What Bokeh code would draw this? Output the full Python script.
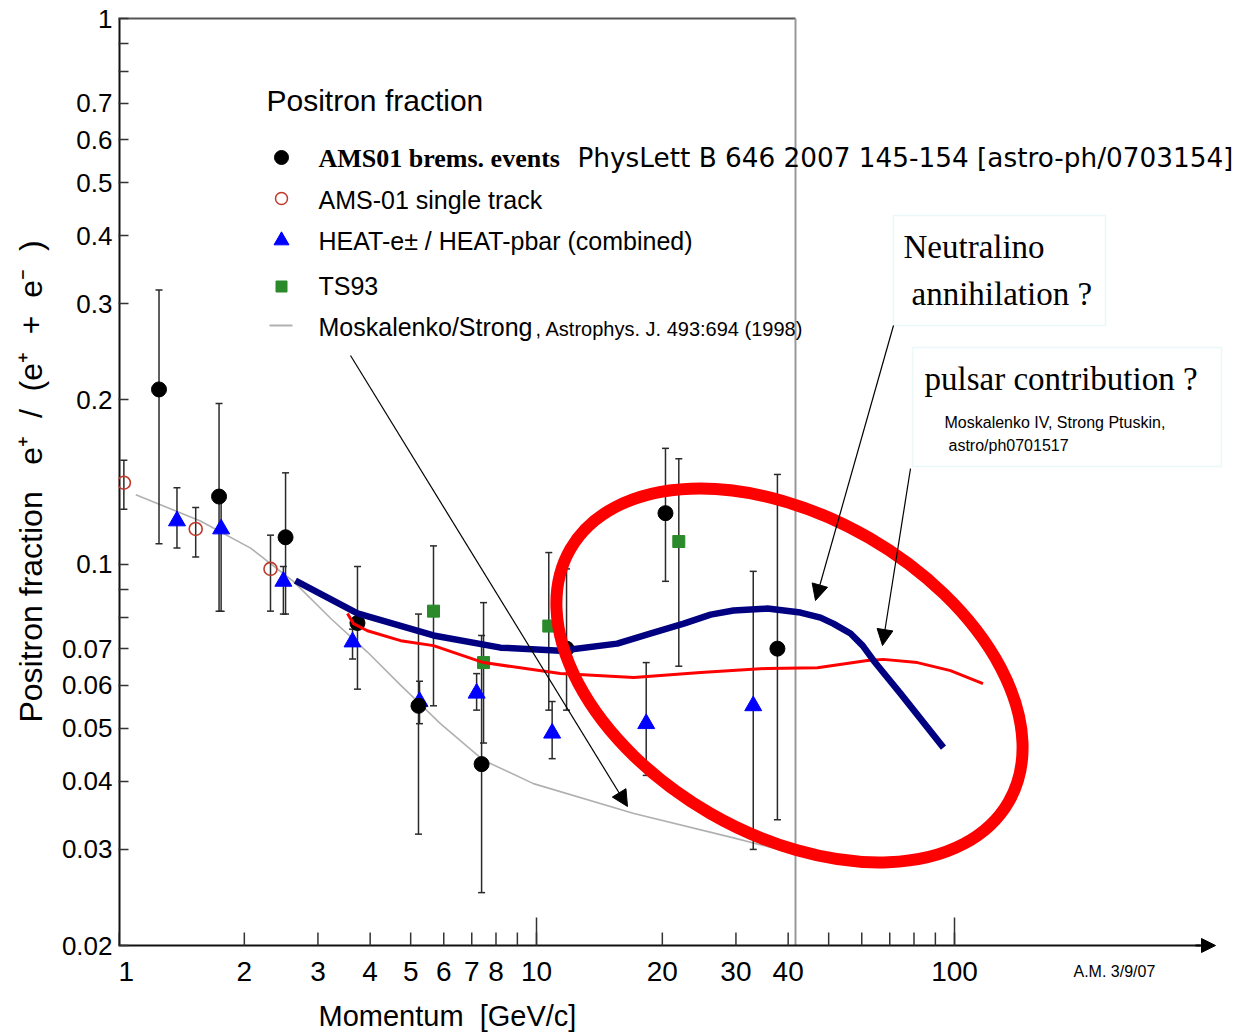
from math import log10
from bokeh.plotting import figure
from bokeh.models import FixedTicker, Label, Arrow, NormalHead, BoxAnnotation
from bokeh.core.properties import value
from bokeh.embed import file_html
from bokeh.resources import INLINE

# ---------------- data ----------------
# AMS01 bremsstrahlung events
ams_brems_x = [1.25, 1.74, 2.51, 3.73, 5.22, 7.39, 11.8, 20.35, 37.7]
ams_brems_y = [0.209, 0.133, 0.112, 0.078, 0.055, 0.043, 0.070, 0.124, 0.070]
ams_brems_hi = [0.318, 0.197, 0.147, 0.099, 0.081, 0.074, 0.098, 0.163, 0.146]
ams_brems_lo = [0.109, 0.082, 0.081, 0.059, 0.032, 0.025, 0.054, 0.093, 0.034]

# AMS-01 single track
ams_track_x = [1.03, 1.53, 2.31]
ams_track_y = [0.141, 0.116, 0.098]
ams_track_hi = [0.155, 0.127, 0.113]
ams_track_lo = [0.126, 0.103, 0.082]

# HEAT combined
heat_x = [1.38, 1.76, 2.48, 3.63, 5.25, 7.19, 10.9, 18.3, 33.0]
heat_y = [0.120, 0.116, 0.093, 0.072, 0.056, 0.058, 0.049, 0.051, 0.055]
heat_hi = [0.138, 0.134, 0.099, 0.076, 0.061, 0.063, 0.056, 0.066, 0.097]
heat_lo = [0.107, 0.082, 0.081, 0.067, 0.051, 0.054, 0.044, 0.041, 0.030]

# TS93
ts93_x = [5.67, 7.47, 10.7, 21.9]
ts93_y = [0.082, 0.066, 0.077, 0.110]
ts93_hi = [0.108, 0.085, 0.105, 0.156]
ts93_lo = [0.055, 0.047, 0.054, 0.065]

# Moskalenko/Strong secondary prediction
moskalenko_x = [1.10, 1.57, 2.07, 2.62, 3.22, 3.94, 4.73, 5.89, 7.47, 9.83, 17.1, 29.6, 41.2]
moskalenko_y = [0.134, 0.120, 0.107, 0.093, 0.0795, 0.069, 0.060, 0.051, 0.0437, 0.0396, 0.0349, 0.0315, 0.0295]

# Neutralino annihilation curve (navy)
neutralino_x = [2.65, 3.73, 5.67, 8.20, 11.4, 15.6, 18.7, 22.5, 26.1, 29.6, 35.7, 42.8, 47.8,
                51.3, 56.4, 60.3, 64.0, 74.3, 94.1]
neutralino_y = [0.0933, 0.0812, 0.0740, 0.0703, 0.0694, 0.0715, 0.0746, 0.0778, 0.0808, 0.0822,
                0.0829, 0.0815, 0.0798, 0.0778, 0.0746, 0.0709, 0.0666, 0.0579, 0.0461]

# Pulsar contribution curve (red)
pulsar_x = [3.53, 3.65, 3.94, 4.73, 5.67, 7.47, 11.4, 17.1, 24.7, 35.7, 47.0, 61.9, 67.6, 81.5, 97.8, 117.0]
pulsar_y = [0.0812, 0.0778, 0.0755, 0.0724, 0.0709, 0.0660, 0.0630, 0.0620, 0.0633, 0.0644, 0.0646,
            0.0666, 0.0669, 0.0660, 0.0638, 0.0604]

x_ticks = [1, 2, 3, 4, 5, 6, 7, 8, 9, 10, 20, 30, 40, 50, 60, 70, 80, 90, 100]
x_label_ticks = [2, 3, 4, 5, 6, 7, 8, 10, 20, 30, 40, 100]
x_label_texts = ["2", "3", "4", "5", "6", "7", "8", "10", "20", "30", "40", "100"]
x_first_label = "1"
x_long_ticks = [10, 100]
y_ticks = [0.02, 0.03, 0.04, 0.05, 0.06, 0.07, 0.08, 0.09, 0.1,
           0.2, 0.3, 0.4, 0.5, 0.6, 0.7, 0.8, 0.9, 1.0]
y_tick_labels = ["0.02", "0.03", "0.04", "0.05", "0.06", "0.07", "", "", "0.1",
                 "0.2", "0.3", "0.4", "0.5", "0.6", "0.7", "", "", "1"]

# ---------------- layout ----------------
W, H = 1234, 1034
FL, FR, FT, FB = 118, 1234, 8, 1034       # plot frame
AXL, AXT, AXB = 118, 18, 945               # pixel column of x = 1, rows of y = 1 and y = 0.02
X0, YA, Y1 = 1.0, 0.02, 1.0
DECADE_X = 418.0
DECADE_Y = (AXB - AXT) / (log10(Y1) - log10(YA))


def px_x(px):
    return 10 ** (log10(X0) + (px - AXL) / DECADE_X)


def px_y(py):
    return 10 ** (log10(Y1) - (py - AXT) / DECADE_Y)


NARROW = "'Liberation Sans Narrow', 'Liberation Sans', Arial, sans-serif"
SERIF = "'Liberation Serif', 'Times New Roman', serif"
ARIAL = "'Liberation Sans', Arial, sans-serif"
NB = "\u00a0"

p = figure(width=W, height=H, x_axis_type="log", y_axis_type="log",
           x_range=(px_x(FL), px_x(FR)), y_range=(px_y(FB), px_y(FT)),
           output_backend="svg", toolbar_location=None,
           min_border_left=FL, min_border_right=0,
           min_border_top=FT, min_border_bottom=0)
p.outline_line_color = None
p.grid.visible = False
p.background_fill_color = "white"
p.border_fill_color = "white"
p.xaxis.visible = False

yax = p.yaxis[0]
yax.ticker = FixedTicker(ticks=y_ticks, minor_ticks=[])
yax.major_label_overrides = {t: l for t, l in zip(y_ticks, y_tick_labels)}
yax.major_tick_in = 10
yax.major_tick_out = 0
yax.minor_tick_in = 0
yax.minor_tick_out = 0
yax.major_tick_line_width = 1.5
yax.major_tick_line_color = "#333333"
yax.axis_line_color = None
yax.major_label_text_font = NARROW
yax.major_label_text_font_size = "26px"
yax.major_label_text_color = "black"
yax.major_label_standoff = 6
yax.axis_label = (NB * 9 + "Positron" + NB + "fraction" + NB * 3 + "e\u207a" + NB * 2 + "/" + NB * 2
                  + "(e\u207a" + NB * 2 + "+" + NB * 2 + "e\u207b" + NB * 2 + ")")
yax.axis_label_text_font = NARROW
yax.axis_label_text_font_size = "32px"
yax.axis_label_text_font_style = "normal"
yax.axis_label_text_color = "black"
yax.axis_label_standoff = 10

# y axis line (from 0.02 up to 1), drawn on the frame edge
p.line([X0, X0], [YA, Y1], line_color="#111111", line_width=4)

# frame box (top and right side up to ~41.6 GeV)
box_x = px_x(795)
p.line([X0, box_x], [Y1, Y1], line_color="#555555", line_width=2)
p.line([box_x, box_x], [YA, Y1], line_color="#999999", line_width=2)

# x axis: line, ticks, labels, arrow head
p.line([X0, px_x(1200)], [YA, YA], line_color="#111111", line_width=2)
p.segment(x0=x_ticks, y0=[YA] * len(x_ticks), x1=x_ticks, y1=[px_y(AXB - 13)] * len(x_ticks),
          line_color="#333333", line_width=1.5)
p.segment(x0=x_long_ticks, y0=[YA] * 2, x1=x_long_ticks, y1=[px_y(AXB - 28)] * 2,
          line_color="#333333", line_width=1.5)
p.text(x=x_label_ticks, y=[px_y(971)] * len(x_label_ticks), text=x_label_texts,
       text_font=value(NARROW), text_font_size=value("28px"), text_align="center",
       text_baseline="middle", text_color="black")
# the "1" sits on the frame edge: left aligned so that it is not cut
p.text(x=[X0], y=[px_y(971)], text=[x_first_label],
       text_font=value(NARROW), text_font_size=value("28px"), text_align="left",
       text_baseline="middle", text_color="black")
p.add_layout(Arrow(end=NormalHead(size=14, fill_color="black", line_color="black"),
                   x_start=px_x(1195), y_start=YA, x_end=px_x(1215), y_end=YA,
                   line_color="black", line_width=2))

# Moskalenko curve
p.line(moskalenko_x, moskalenko_y, line_color="#b0b0b0", line_width=1.6)

# error bars
ERR = "#2a2a2a"
for xs, lo, hi in ((ams_track_x, ams_track_lo, ams_track_hi),
                   (heat_x, heat_lo, heat_hi),
                   (ts93_x, ts93_lo, ts93_hi),
                   (ams_brems_x, ams_brems_lo, ams_brems_hi)):
    p.segment(x0=xs, y0=lo, x1=xs, y1=hi, line_color=ERR, line_width=1.5)
    p.scatter(xs + xs, lo + hi, marker="dash", size=7, line_color=ERR, line_width=1.5)

# markers
p.scatter(ams_track_x, ams_track_y, marker="circle", size=13, fill_alpha=0,
          line_color="#c0392b", line_width=1.6)
p.scatter(heat_x, heat_y, marker="triangle", size=17, fill_color="#0000ff", line_color="#0000ff")
p.scatter(ts93_x, ts93_y, marker="square", size=12, fill_color="#2b8a2b", line_color="#2b8a2b")
p.scatter(ams_brems_x, ams_brems_y, marker="circle", size=15, fill_color="black", line_color="black")

# model curves
p.line(pulsar_x, pulsar_y, line_color="#ff0000", line_width=3)
p.line(neutralino_x, neutralino_y, line_color="#000080", line_width=6.5)

# big red ellipse
p.ellipse(x=[px_x(789)], y=[px_y(675)], width=[506], height=[318],
          width_units="screen", height_units="screen", angle=-0.5236,
          fill_alpha=0, line_color="#ff0000", line_width=12)

# ---------------- legend ----------------
def lab(px, py, text, font, size, style="normal", align="left", baseline="middle"):
    p.add_layout(Label(x=px_x(px), y=px_y(py), text=text, text_font=font,
                       text_font_size=f"{size}px", text_font_style=style,
                       text_align=align, text_baseline=baseline, text_color="black"))

lab(266, 100, "Positron fraction", NARROW, 30)
mx = px_x(281)
p.scatter([mx], [px_y(157)], marker="circle", size=14, fill_color="black", line_color="black")
p.scatter([mx], [px_y(198)], marker="circle", size=12, fill_alpha=0, line_color="#c0392b", line_width=1.5)
p.scatter([mx], [px_y(240)], marker="triangle", size=15, fill_color="#0000ff", line_color="#0000ff")
p.scatter([mx], [px_y(286)], marker="square", size=11, fill_color="#2b8a2b", line_color="#2b8a2b")
p.line([px_x(269), px_x(292)], [px_y(325), px_y(325)], line_color="#b0b0b0", line_width=2)

lab(318, 158, "AMS01 brems. events", SERIF, 26, style="bold")
lab(577, 157, "PhysLett B 646 2007 145-154 [astro-ph/0703154]", "'DejaVu Sans', sans-serif", 26.3)
lab(318, 199, "AMS-01 single track", NARROW, 25)
lab(318, 240, "HEAT-e\u00b1 / HEAT-pbar (combined)", NARROW, 25)
lab(318, 285, "TS93", NARROW, 25)
lab(318, 326, "Moskalenko/Strong", NARROW, 25)
lab(535, 328, ", Astrophys. J. 493:694 (1998)", NARROW, 20)

# ---------------- annotation boxes ----------------
BOX_LINE = "#bfe3e8"
p.add_layout(BoxAnnotation(left=px_x(893), right=px_x(1105), top=px_y(215), bottom=px_y(325),
                           fill_color="white", fill_alpha=1, line_color=BOX_LINE, line_width=1.5))
p.add_layout(BoxAnnotation(left=px_x(912), right=px_x(1221), top=px_y(347), bottom=px_y(466),
                           fill_color="white", fill_alpha=1, line_color=BOX_LINE, line_width=1.5))
lab(903, 246, "Neutralino", SERIF, 33)
lab(911, 293, "annihilation ?", SERIF, 33)
lab(924, 378, "pulsar contribution ?", SERIF, 33)
lab(944, 422, "Moskalenko IV, Strong Ptuskin,", ARIAL, 16)
lab(948, 445, "astro/ph0701517", ARIAL, 16)

# arrows
for (x_s, y_s, x_e, y_e) in ((893, 325, 815, 600), (910, 468, 882, 645), (350, 355, 627, 806)):
    p.add_layout(Arrow(end=NormalHead(size=16, fill_color="black", line_color="black"),
                       x_start=px_x(x_s), y_start=px_y(y_s), x_end=px_x(x_e), y_end=px_y(y_e),
                       line_color="black", line_width=1.2))

# axis title and stamp below the axis
lab(318, 1015, "Momentum" + NB * 2 + "[GeV/c]", NARROW, 29)
lab(1073, 971, "A.M. 3/9/07", NARROW, 16)

open("out.html", "w").write(file_html(p, INLINE))
